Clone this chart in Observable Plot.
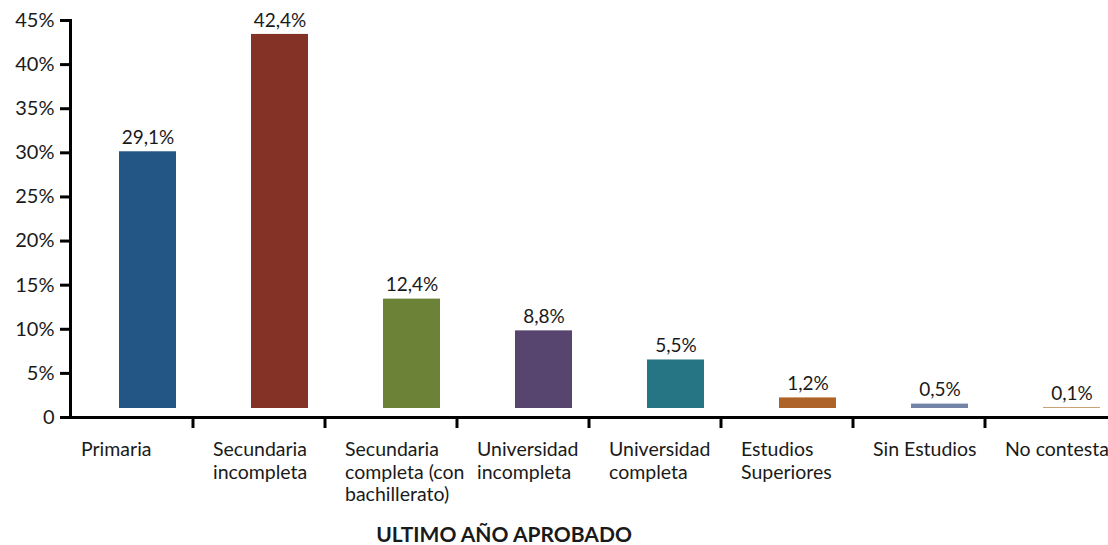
<!DOCTYPE html>
<html><head><meta charset="utf-8">
<script src="https://cdn.jsdelivr.net/npm/d3@7"></script>
<script src="https://cdn.jsdelivr.net/npm/@observablehq/plot@0.6"></script>
<style>
body{margin:0;background:#fff;font-family:Lato,sans-serif;position:relative;width:1108px;height:545px;overflow:hidden;}
#title{position:absolute;left:0;width:1008px;top:522px;text-align:center;font-weight:bold;font-size:21px;line-height:24px;color:#1a1a1a;}
</style></head><body>
<div id="chart"></div>
<div id="title"></div>
<script>
const categories = ["Primaria", "Secundaria\nincompleta", "Secundaria\ncompleta (con\nbachillerato)", "Universidad\nincompleta", "Universidad\ncompleta", "Estudios\nSuperiores", "Sin Estudios", "No contesta"];
const values = [29.1, 42.4, 12.4, 8.8, 5.5, 1.2, 0.5, 0.1];
const valueLabels = ["29,1%", "42,4%", "12,4%", "8,8%", "5,5%", "1,2%", "0,5%", "0,1%"];
const colors = ["#235685", "#843126", "#6b8237", "#574570", "#267584", "#ae6328", "#7384a6", "#c4965f"];
const yTicks = [0, 5, 10, 15, 20, 25, 30, 35, 40, 45];
const yTickLabels = ["0", "5%", "10%", "15%", "20%", "25%", "30%", "35%", "40%", "45%"];
const axisTitle = "ULTIMO AÑO APROBADO";

const data = categories.map((c, i) => ({category: c, value: values[i], label: valueLabels[i]}));
const ink = "#1a1a1a";

const chart = Plot.plot({
  width: 1108, height: 510,
  marginTop: 20, marginBottom: 93, marginLeft: 70, marginRight: 0,
  style: {fontFamily: "Lato", fontSize: "19px", color: ink, background: "white", overflow: "visible"},
  x: {domain: categories, range: [81.5, 1137.5], paddingInner: 0.568, paddingOuter: 0.284},
  y: {domain: [0, 45]},
  color: {domain: categories, range: colors},
  marks: [
    Plot.rectY(data, {x: "category", y: "value", fill: "category", dy: -9}),
    Plot.text(data, {x: "category", y: "value", text: "label", dy: -23, fontSize: 19, fill: ink}),
    Plot.axisY({ticks: yTicks, tickFormat: d => yTickLabels[yTicks.indexOf(d)], tickSize: 10, tickPadding: 6, strokeWidth: 3, fontSize: 20, stroke: "black", fill: ink, label: null}),
    Plot.axisX({ticks: categories, tickSize: 0, tickPadding: 23, textAnchor: "start", dx: -67, lineHeight: 1.15, fontSize: 19.5, fill: ink, label: null}),
    Plot.axisX({ticks: categories.slice(1), tickSize: 11, tickFormat: null, dx: -87, strokeWidth: 3, stroke: "black", label: null}),
    Plot.ruleY([0], {strokeWidth: 3, stroke: "black"}),
    Plot.frame({anchor: "left", strokeWidth: 3, stroke: "black"})
  ]
});
document.getElementById("chart").appendChild(chart);
document.getElementById("title").textContent = axisTitle;
</script>
</body></html>
